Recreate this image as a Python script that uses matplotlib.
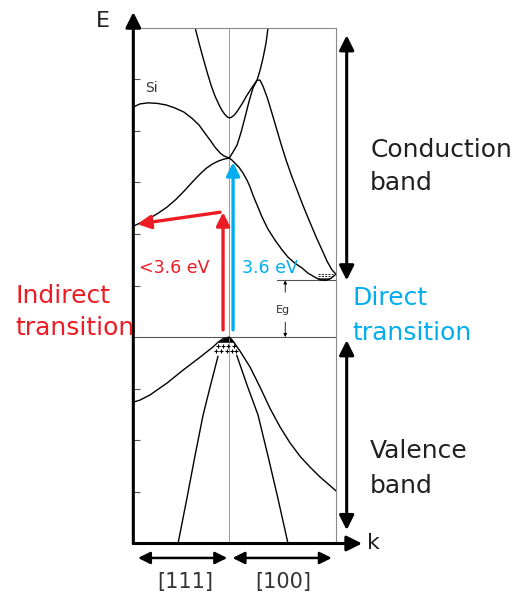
import matplotlib
matplotlib.use("Agg")
import matplotlib.pyplot as plt

plt.rcParams["font.family"] = ["DejaVu Sans"]

# Silicon band structure, E (eV) vs k; k < 0 is the [111] (Gamma-L) branch,
# k > 0 the [100] (Gamma-X) branch.
K_MIN, K_MAX = -0.9, 1.0
E_MIN, E_MAX = -4.0, 6.0
E_GAP = 1.1

# conduction bands
C1_K = [-0.327, -0.284, -0.246, -0.209, -0.171, -0.134, -0.096, -0.068, -0.040, -0.018, 0.0,
        0.020, 0.045, 0.072, 0.119, 0.166, 0.213, 0.260, 0.288, 0.316, 0.344, 0.366]
C1_E = [6.05, 5.70, 5.41, 5.14, 4.88, 4.67, 4.50, 4.39, 4.31, 4.265, 4.25,
        4.26, 4.30, 4.37, 4.52, 4.69, 4.84, 4.98, 5.17, 5.41, 5.70, 6.05]

C2_K = [0.0, 0.035, 0.072, 0.110, 0.147, 0.185, 0.222, 0.260, 0.288, 0.316, 0.354, 0.391,
        0.438, 0.485, 0.532, 0.588, 0.635, 0.681, 0.728, 0.775, 0.822, 0.869, 0.916, 0.963, 1.0]
C2_E = [3.47, 3.59, 3.72, 3.97, 4.26, 4.57, 4.83, 4.98, 4.98, 4.86, 4.65, 4.40,
        4.07, 3.74, 3.43, 3.10, 2.85, 2.60, 2.36, 2.13, 1.90, 1.69, 1.47, 1.30, 1.22]

C3_K = [0.0, 0.025, 0.053, 0.091, 0.128, 0.166, 0.194, 0.222, 0.260, 0.306, 0.363,
        0.428, 0.494, 0.550, 0.616, 0.681, 0.737, 0.803, 0.850, 0.906, 0.953, 1.0]
C3_E = [3.47, 3.43, 3.37, 3.29, 3.18, 3.04, 2.91, 2.75, 2.56, 2.33, 2.09,
        1.88, 1.69, 1.55, 1.43, 1.34, 1.24, 1.16, 1.11, 1.10, 1.14, 1.22]

L1_K = [-0.9, -0.837, -0.762, -0.678, -0.593, -0.509, -0.425, -0.350, -0.284, -0.228,
        -0.181, -0.134, -0.087, -0.050, 0.0]
L1_E = [4.46, 4.52, 4.54, 4.53, 4.50, 4.44, 4.36, 4.24, 4.11, 3.95,
        3.82, 3.68, 3.57, 3.51, 3.47]

L2_K = [0.0, -0.050, -0.106, -0.162, -0.218, -0.275, -0.340, -0.415, -0.500, -0.584,
        -0.668, -0.743, -0.818, -0.9]
L2_E = [3.47, 3.45, 3.41, 3.35, 3.27, 3.16, 3.02, 2.85, 2.67, 2.52,
        2.40, 2.31, 2.23, 2.15]

# valence bands
V1_K = [-0.9, -0.837, -0.743, -0.584, -0.434, -0.275, -0.153, -0.106, -0.059, 0.0,
        0.035, 0.100, 0.194, 0.288, 0.381, 0.475, 0.569, 0.663, 0.757, 0.850, 1.0]
V1_E = [-1.26, -1.22, -1.12, -0.89, -0.64, -0.39, -0.19, -0.10, -0.03, 0.0,
        -0.08, -0.27, -0.58, -0.97, -1.38, -1.74, -2.05, -2.31, -2.52, -2.71, -2.98]

V2L_K = [-0.106, -0.176, -0.246, -0.321, -0.401, -0.481]
V2L_E = [-0.37, -0.93, -1.51, -2.29, -3.16, -4.00]
V2R_K = [0.069, 0.166, 0.269, 0.363, 0.457, 0.550]
V2R_E = [-0.35, -0.93, -1.51, -2.31, -3.14, -4.00]

# filled cap at the valence band top
DOME_K = [-0.11, -0.08, -0.05, -0.02, 0.0, 0.02, 0.045]
DOME_TOP = [-0.10, -0.055, -0.025, -0.005, 0.0, -0.03, -0.10]
DOME_BOTTOM = -0.10

# holes at the valence band top, electrons at the conduction band minimum
HOLE_K = [-0.109, -0.057, -0.009, 0.047, -0.127, -0.078, -0.024, 0.023, 0.060]
HOLE_E = [-0.17, -0.17, -0.17, -0.17, -0.27, -0.27, -0.27, -0.27, -0.27]
ELEC_K = [0.83, 0.97]
ELEC_E = [1.23, 1.18]

# transitions (eV)
INDIRECT_K = -0.059
INDIRECT_TOP = 2.42
INDIRECT_END = (-0.864, 2.19)
DIRECT_K = 0.035
DIRECT_TOP = 3.39
TRANS_START = 0.14

RED = "#ED1C24"
BLUE = "#00AEEF"
INK = "#231F20"


def arrow(ax, start, end, color, lw, scale, style="-|>"):
    ax.annotate("", xy=end, xytext=start, annotation_clip=False,
                arrowprops=dict(arrowstyle=style, color=color, lw=lw,
                                mutation_scale=scale, shrinkA=0, shrinkB=0))


fig = plt.figure(figsize=(5.28, 5.97), dpi=100)
ax = fig.add_axes([0.2525, 0.0896, 0.3839, 0.8643])
ax.set_xlim(K_MIN, K_MAX)
ax.set_ylim(E_MIN, E_MAX)

for side in ("top", "right"):
    ax.spines[side].set_color("#8a8a8a")
    ax.spines[side].set_linewidth(0.8)
ax.spines["left"].set_visible(False)
ax.spines["bottom"].set_visible(False)
ax.set_xticks([])
ax.set_yticks([-3, -2, -1, 1, 2, 3, 4, 5])
ax.set_yticklabels([])
ax.tick_params(axis="y", direction="in", length=5, width=0.8, color="#555555")

ax.axvline(0, color="#8a8a8a", lw=0.6)
ax.axhline(0, color="#555555", lw=0.8)
ax.plot([0.447, K_MAX], [E_GAP, E_GAP], color="#555555", lw=0.8)

band = dict(color="black", lw=1.0, solid_capstyle="round", solid_joinstyle="round")
for k, e in ((C1_K, C1_E), (C2_K, C2_E), (C3_K, C3_E), (L1_K, L1_E), (L2_K, L2_E),
             (V1_K, V1_E), (V2L_K, V2L_E), (V2R_K, V2R_E)):
    ax.plot(k, e, **band)

# filled caps at the band extrema
ax.fill_between(DOME_K, DOME_TOP, DOME_BOTTOM, color="black", lw=0)
ax.fill_between(C3_K[17:21], C3_E[17:21], 1.15, color="#222222", lw=0)
ax.plot(HOLE_K, HOLE_E, "+", color="black", ms=3.5, mew=0.8)
for e in ELEC_E:
    ax.plot(ELEC_K, [e, e], color="black", lw=0.6, ls=(0, (2.5, 1.5)))

# Eg marker
arrow(ax, (0.524, 0.87), (0.524, E_GAP), "black", 0.6, 5)
arrow(ax, (0.524, 0.29), (0.524, 0.0), "black", 0.6, 5)
ax.text(0.503, 0.52, "Eg", fontsize=8, color="#333333", ha="center", va="center")
ax.text(-0.727, 4.83, "Si", fontsize=10, color="#333333", ha="center", va="center")

# transitions
arrow(ax, (INDIRECT_K, TRANS_START), (INDIRECT_K, INDIRECT_TOP), RED, 2.4, 20)
arrow(ax, (INDIRECT_K - 0.028, INDIRECT_TOP), INDIRECT_END, RED, 2.4, 20)
arrow(ax, (DIRECT_K, TRANS_START), (DIRECT_K, DIRECT_TOP), BLUE, 2.4, 20)
ax.text(-0.518, 1.33, "<3.6 eV", fontsize=12.5, color=RED, ha="center", va="center")
ax.text(0.377, 1.33, "3.6 eV", fontsize=12.5, color=BLUE, ha="center", va="center")

# axes with arrow heads
arrow(ax, (K_MIN, E_MIN), (K_MIN, 6.30), "black", 2.2, 23)
arrow(ax, (K_MIN, E_MIN), (1.244, E_MIN), "black", 2.2, 23)
ax.text(-1.184, 6.12, "E", fontsize=16, color=INK, ha="center", va="center")
ax.text(1.35, -3.99, "k", fontsize=16, color=INK, ha="center", va="center")

# direction labels under the k axis
arrow(ax, (-0.02, -4.28), (-0.856, -4.28), "black", 1.8, 18, "<|-|>")
arrow(ax, (0.03, -4.28), (0.96, -4.28), "black", 1.8, 18, "<|-|>")
ax.text(-0.415, -4.75, "[111]", fontsize=15, color="#333333", ha="center", va="center")
ax.text(0.505, -4.75, "[100]", fontsize=15, color="#333333", ha="center", va="center")

# band ranges
arrow(ax, (1.10, 1.10), (1.10, 5.85), "black", 2.2, 22, "<|-|>")
arrow(ax, (1.10, -3.74), (1.10, -0.06), "black", 2.2, 22, "<|-|>")

big = dict(fontsize=18, ha="left", va="baseline")
ax.text(1.32, 3.49, "Conduction", color=INK, **big)
ax.text(1.32, 2.85, "band", color=INK, **big)
ax.text(1.32, -2.34, "Valence", color=INK, **big)
ax.text(1.32, -3.02, "band", color=INK, **big)
ax.text(1.15, 0.62, "Direct", color=BLUE, **big)
ax.text(1.15, -0.06, "transition", color=BLUE, **big)
ax.text(-2.008, 0.66, "Indirect", color=RED, **big)
ax.text(-2.008, 0.04, "transition", color=RED, **big)

fig.savefig("out.png", dpi=100)
plt.close(fig)
